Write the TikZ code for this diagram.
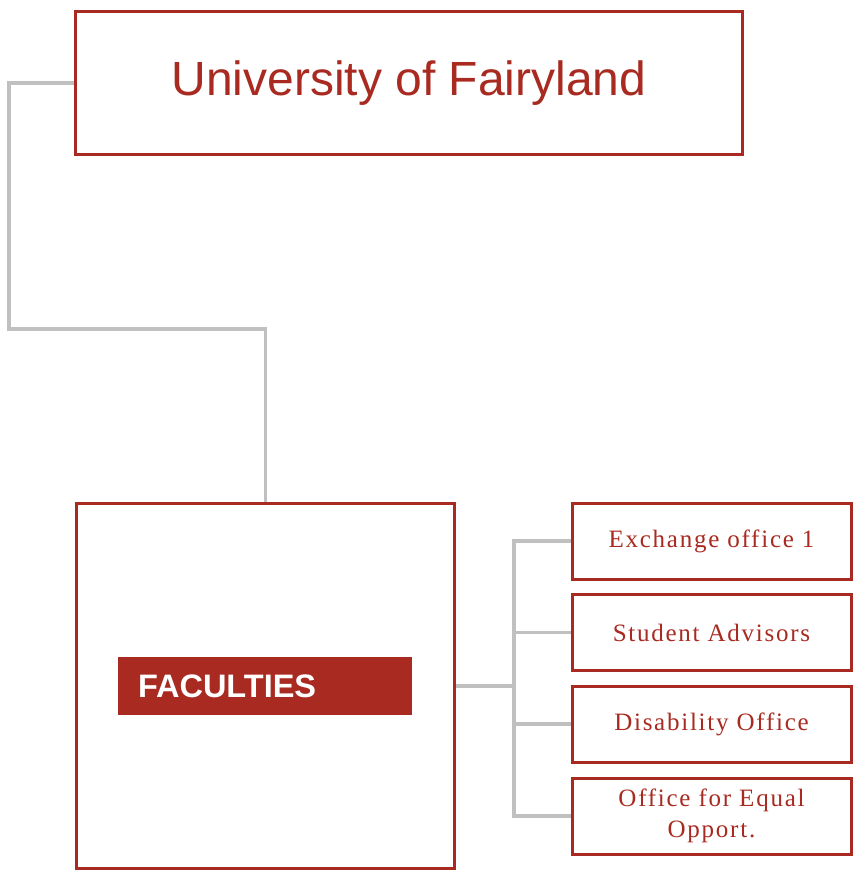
\documentclass[tikz,border=0pt]{standalone}
\usepackage{fontspec}
\setmainfont{Liberation Sans}
\newfontfamily\officefont[LetterSpace=7]{Liberation Serif}
\definecolor{unired}{HTML}{A82A20}
\definecolor{linkgray}{HTML}{C0C0C0}
\tikzset{
  unitbox/.style={draw=unired,line width=3pt,fill=white,inner sep=0pt},
  officebox/.style={unitbox,minimum width=279pt,minimum height=76pt,
    font=\officefont\fontsize{25}{31}\selectfont,text=unired,align=center},
  link/.style={draw=linkgray,line width=3.2pt}
}
\begin{document}
\begin{tikzpicture}[x=1pt,y=-1pt,line join=miter]
	\useasboundingbox (0,0) rectangle (858,872);
	% top level
	\node[unitbox,minimum width=667pt,minimum height=143pt,text=unired,
	  font=\fontsize{48}{56}\selectfont] (uni) at (409,83) {University of Fairyland};
	\node[unitbox,minimum width=378pt,minimum height=365pt] (fac) at (265.5,686) {};
	\node[fill=unired,text=white,minimum height=58pt,text width=254pt,align=left,
	  inner xsep=20pt,inner ysep=0pt,font=\bfseries\fontsize{32.5}{36}\selectfont] (facbar) at (265,686) {FACULTIES};
	% offices
	\node[officebox] (exch) at (711.5,541) {Exchange office 1};
	\node[officebox] (advis) at (711.5,632.5) {Student Advisors};
	\node[officebox] (disab) at (711.5,724) {Disability Office};
	\node[officebox] (equal) at (711.5,816) {Office for Equal\\Opport.};
	% connectors
	\coordinate (bend) at (9,329);
	\coordinate (hub) at (514,686);
	\draw[link] (uni.west) -| (bend) -| (fac.north);
	\draw[link] (fac.east) -- (hub);
	\foreach \o in {exch,advis,disab,equal}
		\draw[link] (hub) |- (\o.west);
\end{tikzpicture}
\end{document}
